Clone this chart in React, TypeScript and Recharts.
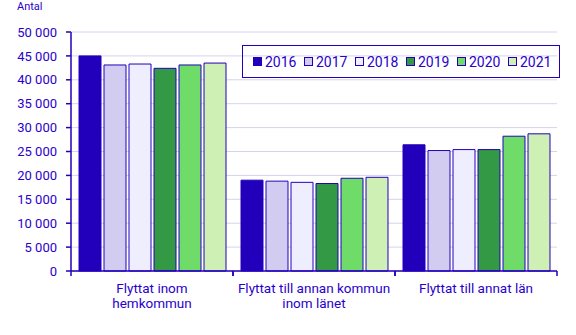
import { BarChart, Bar, XAxis, YAxis, CartesianGrid, Legend } from 'recharts';

const categories = ['Flyttat inom\nhemkommun', 'Flyttat till annan kommun\ninom länet', 'Flyttat till annat län'];
const years = ['2016', '2017', '2018', '2019', '2020', '2021'];
const values2016 = [45000, 19000, 26400];
const values2017 = [43100, 18800, 25200];
const values2018 = [43300, 18550, 25400];
const values2019 = [42400, 18300, 25400];
const values2020 = [43100, 19400, 28200];
const values2021 = [43500, 19600, 28700];
const yTicks = [0, 5000, 10000, 15000, 20000, 25000, 30000, 35000, 40000, 45000, 50000];

const seriesValues = [values2016, values2017, values2018, values2019, values2020, values2021];
const COLORS = ['#2200bb', '#d2cdf0', '#eeeeff', '#339944', '#6fdc6a', '#cff0b4'];
const INK = '#2200bb';
const TEXT = '#2a00cc';

const data = categories.map((name, i) => {
  const row: any = { name };
  years.forEach((y, j) => { row[y] = seriesValues[j][i]; });
  return row;
});

const fmt = (v: number) => String(v).replace(/\B(?=(\d{3})+(?!\d))/g, ' ');

const XTick = ({ x, y, payload }: any) => {
  const lines = String(payload.value).split('\n');
  const half = payload.offset || 81;
  return (
    <g>
      <line x1={x - half} x2={x - half} y1={y} y2={y + 5} stroke={INK} strokeWidth={1.5} />
      <line x1={x + half} x2={x + half} y1={y} y2={y + 5} stroke={INK} strokeWidth={1.5} />
      {lines.map((l, i) => (
        <text key={i} x={x} y={y + 22 + i * 15} textAnchor="middle" fill={TEXT} fontSize={13.5}>{l}</text>
      ))}
    </g>
  );
};

const LegendBox = () => (
  <div style={{
    border: `1.5px solid ${INK}`, width: 316, height: 31, boxSizing: 'content-box',
    display: 'flex', alignItems: 'center',
  }}>
    {years.map((y, i) => (
      <div key={y} style={{ display: 'flex', alignItems: 'center', width: 52, marginLeft: i === 0 ? 10 : 0 }}>
        <span style={{ width: 7, height: 7, background: COLORS[i], border: `1px solid ${INK}`, display: 'inline-block', marginRight: 3 }} />
        <span style={{ color: TEXT, fontSize: 14 }}>{y}</span>
      </div>
    ))}
  </div>
);

export default function App() {
  return (
    <div style={{ position: 'absolute', left: 0, top: 0, width: 576, height: 335, background: '#fff', fontFamily: 'Roboto, sans-serif' }}>
      <div style={{ position: 'absolute', left: 17, top: 0, fontSize: 11, color: TEXT }}>Antal</div>
      <BarChart width={576} height={335} data={data} margin={{ top: 32, right: 19, left: 0, bottom: 24 }}
        barCategoryGap={8} barGap={3}>
        <CartesianGrid vertical={false} stroke="#d6d2ee" />
        <XAxis dataKey="name" height={40} tickSize={0} tickMargin={0} tick={<XTick />} axisLine={{ stroke: INK, strokeWidth: 1.5 }} interval={0} />
        <YAxis width={71} domain={[0, 50000]} ticks={yTicks} tickFormatter={fmt} tickSize={5} tickMargin={9}
          tick={{ fill: TEXT, fontSize: 13 }} axisLine={{ stroke: INK, strokeWidth: 1.5 }} tickLine={{ stroke: INK, strokeWidth: 1.5 }} />
        <Legend layout="horizontal" verticalAlign="middle" align="center" content={<LegendBox />}
          wrapperStyle={{ position: 'absolute', top: 45, left: 242, width: 320 }} />
        {years.map((y, i) => (
          <Bar key={y} dataKey={y} fill={COLORS[i]} stroke={INK} strokeWidth={1} isAnimationActive={false} />
        ))}
      </BarChart>
    </div>
  );
}
